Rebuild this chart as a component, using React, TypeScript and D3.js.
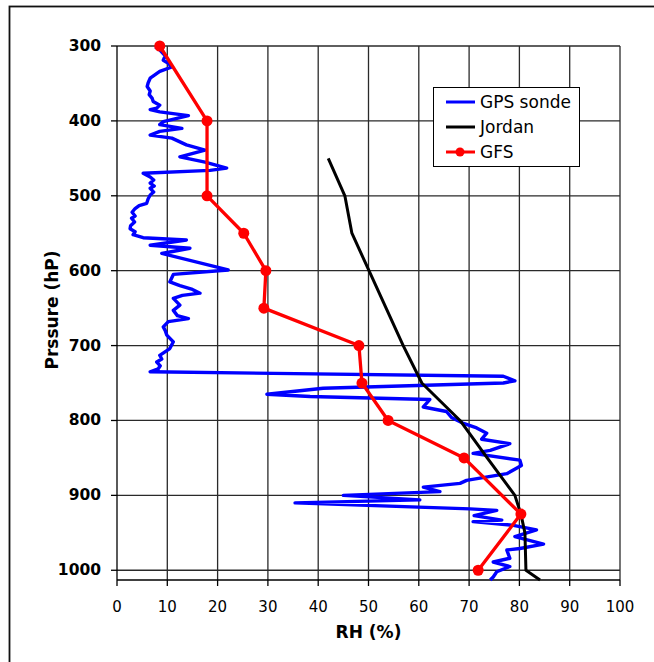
import React, { useMemo } from 'react'
import { scaleLinear, line, range } from 'd3'

// GPS sonde profile (pressure hPa, RH %)
const sondeP = [
    301, 305, 308, 313, 319, 323, 328, 334, 343, 349, 354, 360, 365, 370, 374, 379,
    383, 385, 388, 393, 401, 405, 410, 414, 419, 423, 432, 439, 448, 455, 463, 466,
    470, 475, 479, 483, 487, 490, 495, 499, 504, 510, 513, 517, 522, 527, 530, 535,
    540, 544, 548, 552, 556, 559, 566, 570, 577, 599, 605, 615, 620, 625, 630, 633,
    637, 646, 653, 660, 664, 668, 675, 680, 686, 695, 704, 713, 718, 722, 727, 731,
    735, 741, 747, 750, 757, 765, 768, 772, 782, 788, 796, 804, 810, 817, 825, 831,
    840, 844, 853, 860, 871, 880, 884, 889, 895, 900, 906, 910, 918, 920, 927, 933,
    935, 940, 946, 955, 965, 971, 973, 984, 989, 995, 1002, 1009, 1013,
]
const sondeRH = [
    7.6, 8.5, 8.9, 9.6, 9.2, 10.2, 10.9, 8.5, 6.6, 6.2, 6.0, 6.6, 6.4, 7.0, 7.2, 8.5,
    7.9, 6.6, 8.5, 14.2, 9.2, 8.5, 12.9, 8.5, 6.6, 10.9, 13.8, 17.5, 12.5, 17.5, 21.8, 18.5,
    5.2, 6.6, 7.3, 6.6, 7.4, 6.6, 7.3, 6.6, 6.2, 5.9, 4.4, 3.6, 3.0, 3.6, 2.9, 3.5,
    2.7, 2.6, 3.6, 3.2, 5.2, 13.8, 6.6, 14.5, 8.9, 22.1, 11.2, 10.5, 12.5, 15.0, 16.5, 13.0,
    11.2, 12.5, 11.2, 12.0, 14.2, 10.2, 9.2, 9.6, 9.9, 11.2, 10.5, 8.5, 8.9, 7.9, 8.6, 8.2,
    6.6, 76.8, 79.1, 76.8, 41.0, 29.8, 38.4, 62.2, 60.9, 65.5, 66.5, 68.9, 71.5, 73.5, 72.5, 78.1,
    74.2, 70.8, 80.1, 80.4, 77.5, 69.5, 68.2, 60.9, 64.2, 45.0, 60.2, 35.4, 70.2, 75.5, 71.0, 76.5,
    70.8, 78.8, 83.4, 79.1, 84.8, 80.1, 77.5, 78.1, 74.8, 78.1, 75.5, 74.8, 74.2,
]

// Jordan mean profile
const jordanP = [450, 500, 550, 600, 650, 700, 750, 800, 850, 900, 925, 950, 1000, 1013]
const jordanRH = [42.0, 45.3, 46.7, 50.1, 53.5, 56.9, 60.6, 68.2, 73.6, 79.1, 80.3, 81.1, 81.3, 84.1]

// GFS model levels
const gfsP = [300, 400, 500, 550, 600, 650, 700, 750, 800, 850, 925, 1000]
const gfsRH = [8.5, 17.9, 17.9, 25.2, 29.6, 29.2, 48.1, 48.7, 53.9, 69.0, 80.3, 71.8]

const xTicks = range(0, 101, 10)
const yTicks = range(300, 1001, 100)

const legendItems = [
    { label: 'GPS sonde', color: '#0000ff', marker: false },
    { label: 'Jordan', color: '#000000', marker: false },
    { label: 'GFS', color: '#ff0000', marker: true },
]

const font = '"DejaVu Sans", Verdana, sans-serif'

export default function App() {
    const width = 654
    const height = 662
    const [left, right, top, bottom] = [117, 620, 46, 580]

    const x = useMemo(() => scaleLinear().domain([0, 100]).range([left, right]), [])
    const y = useMemo(() => scaleLinear().domain([300, 1013]).range([top, bottom]), [])

    const path = line<[number, number]>()
        .x(d => x(d[0]))
        .y(d => y(d[1]))

    const sonde = sondeP.map((p, i) => [sondeRH[i], p] as [number, number])
    const jordan = jordanP.map((p, i) => [jordanRH[i], p] as [number, number])
    const gfs = gfsP.map((p, i) => [gfsRH[i], p] as [number, number])

    const grid = '#2a2a2a'

    return (
        <svg
            width={width}
            height={height}
            style={{ position: 'fixed', top: 0, left: 0, background: 'white' }}
            fontFamily={font}
        >
            <rect x={9.5} y={6.5} width={700} height={700} fill='white' stroke='#111' strokeWidth={1.8} />

            {/* grid */}
            <g stroke={grid} strokeWidth={1.3}>
                {xTicks.filter(t => t > 0).map(t => (
                    <line key={'gx' + t} x1={x(t)} x2={x(t)} y1={top} y2={bottom} />
                ))}
                {yTicks.map(t => (
                    <line key={'gy' + t} x1={left} x2={right} y1={y(t)} y2={y(t)} />
                ))}
            </g>

            {/* axes */}
            <g stroke='#000' strokeWidth={1.3}>
                <line x1={left} x2={left} y1={top} y2={bottom} />
                <line x1={left} x2={right} y1={bottom} y2={bottom} />
                {xTicks.map(t => (
                    <line key={'tx' + t} x1={x(t)} x2={x(t)} y1={bottom} y2={bottom + 6} />
                ))}
                {yTicks.map(t => (
                    <line key={'ty' + t} x1={left - 6} x2={left} y1={y(t)} y2={y(t)} />
                ))}
            </g>

            <g fontSize={15} textAnchor='middle' fill='#000'>
                {xTicks.map(t => (
                    <text key={'lx' + t} x={x(t)} y={612}>
                        {t}
                    </text>
                ))}
            </g>
            <g fontSize={15.5} fontWeight='bold' textAnchor='end' fill='#000'>
                {yTicks.map(t => (
                    <text key={'ly' + t} x={101} y={y(t)} dominantBaseline='central'>
                        {t}
                    </text>
                ))}
            </g>

            <text x={(left + right) / 2} y={638} fontSize={17} fontWeight='bold' textAnchor='middle'>
                RH (%)
            </text>
            <text
                transform='translate(58, 310) rotate(-90)'
                fontSize={17}
                fontWeight='bold'
                textAnchor='middle'
            >
                Prssure (hP)
            </text>

            {/* series */}
            <path d={path(sonde) || ''} fill='none' stroke='#0000ff' strokeWidth={3.4} strokeLinejoin='round' />
            <path d={path(jordan) || ''} fill='none' stroke='#000' strokeWidth={3} strokeLinejoin='round' />
            <path d={path(gfs) || ''} fill='none' stroke='#ff0000' strokeWidth={3.3} strokeLinejoin='round' />
            {gfs.map(d => (
                <circle key={'c' + d[1]} cx={x(d[0])} cy={y(d[1])} r={5.5} fill='#ff0000' />
            ))}

            {/* legend */}
            <g>
                <rect x={433.5} y={87.5} width={146} height={79} fill='white' stroke='#000' strokeWidth={1} />
                {legendItems.map((l, i) => {
                    const ly = 102 + i * 25
                    return (
                        <g key={l.label}>
                            <line x1={446} x2={475} y1={ly} y2={ly} stroke={l.color} strokeWidth={3} />
                            {l.marker && <circle cx={460} cy={ly} r={4.5} fill={l.color} />}
                            <text x={480} y={ly} fontSize={17} dominantBaseline='central'>
                                {l.label}
                            </text>
                        </g>
                    )
                })}
            </g>
        </svg>
    )
}
